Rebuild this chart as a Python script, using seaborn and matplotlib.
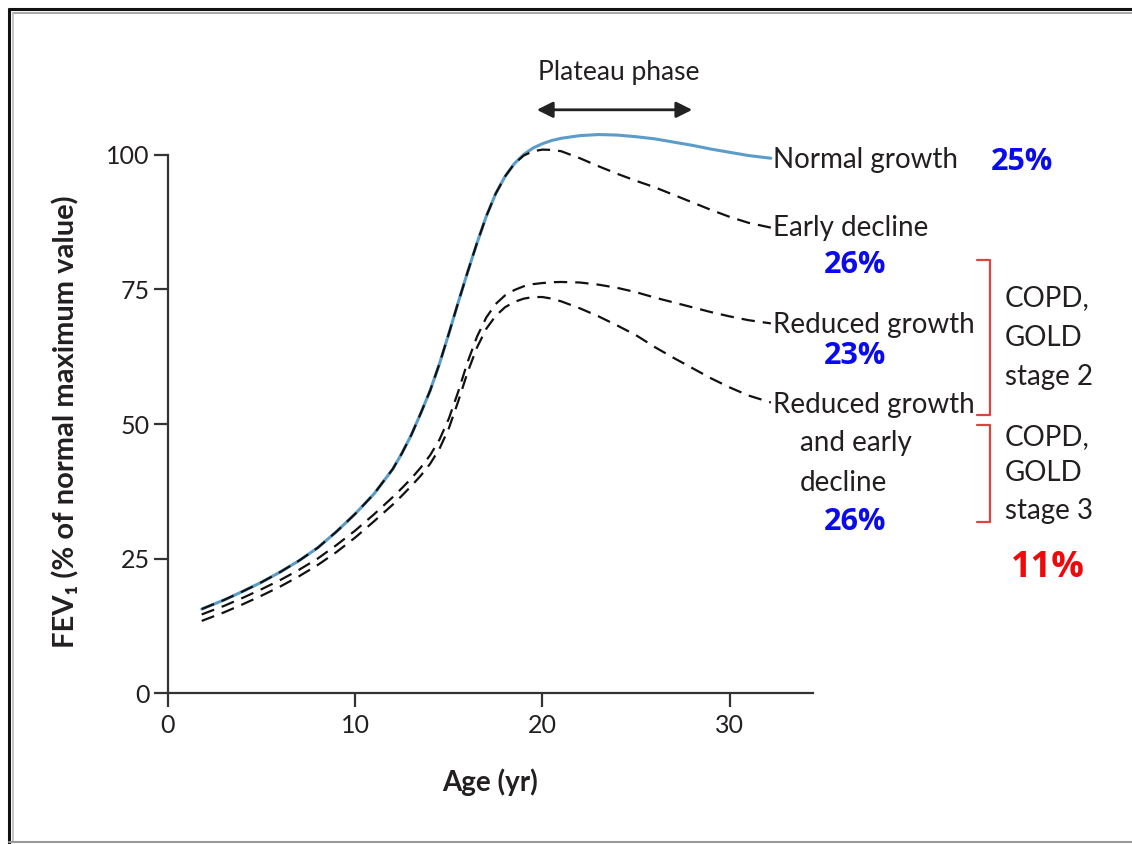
import numpy as np
import pandas as pd
import matplotlib
matplotlib.use('Agg')
import matplotlib.pyplot as plt
from matplotlib.lines import Line2D
import seaborn as sns

# ─── Data ──────────────────────────────────────────────
AGES = [1.8, 3, 4, 5, 6, 7, 8, 9, 10, 11, 12, 12.5, 13, 13.5, 14, 14.5, 15,
        15.5, 16, 16.5, 17, 17.5, 18, 18.5, 19, 19.5, 20, 20.5, 21, 22, 23,
        24, 25, 26, 27, 28, 29, 30, 31, 32.2]

normal_growth = [15.6, 17.3, 18.9, 20.6, 22.5, 24.6, 27.0, 30.0, 33.3, 37.0,
                 41.6, 44.6, 48.0, 52.0, 56.2, 61.2, 66.8, 72.6, 78.2, 83.6,
                 88.6, 92.8, 96.0, 98.4, 100.1, 101.3, 102.1, 102.7, 103.1,
                 103.6, 103.8, 103.7, 103.4, 103.0, 102.4, 101.8, 101.1,
                 100.5, 99.9, 99.4]

early_decline = [15.6, 17.3, 18.9, 20.6, 22.5, 24.6, 27.0, 30.0, 33.3, 37.0,
                 41.6, 44.6, 48.0, 52.0, 56.2, 61.2, 66.8, 72.6, 78.2, 83.6,
                 88.6, 92.8, 96.0, 98.4, 99.9, 100.7, 101.0, 100.95, 100.7,
                 99.4, 97.9, 96.5, 95.2, 94.0, 92.6, 91.2, 89.8, 88.5, 87.4,
                 86.5]

reduced_growth = [14.6, 16.2, 17.7, 19.3, 21.0, 22.9, 25.0, 27.5, 30.2, 33.2,
                  36.4, 38.1, 39.9, 41.9, 44.2, 47.1, 51.0, 56.0, 61.5, 66.2,
                  69.8, 72.3, 73.9, 74.9, 75.6, 76.0, 76.2, 76.35, 76.4, 76.3,
                  75.9, 75.3, 74.5, 73.5, 72.6, 71.7, 70.8, 70.0, 69.3, 68.7]

reduced_early = [13.4, 15.0, 16.5, 18.1, 19.8, 21.7, 23.8, 26.2, 28.9, 31.9,
                 35.0, 36.7, 38.5, 40.4, 42.6, 45.4, 49.2, 54.2, 59.6, 64.2,
                 67.7, 70.1, 71.7, 72.7, 73.3, 73.6, 73.6, 73.3, 72.8, 71.5,
                 70.0, 68.3, 66.5, 64.3, 62.3, 60.4, 58.5, 56.8, 55.3, 54.0]

Y_TICKS = [0, 25, 50, 75, 100]
X_TICKS = [0, 10, 20, 30]

# labels at right end of curves: (text, y)
curve_labels = [('Normal growth', 99.1), ('Early decline', 86.4),
                ('Reduced growth', 68.4), ('Reduced growth', 53.5)]
pct_blue = [('25%', 45.6, 98.7), ('26%', 36.7, 79.6),
            ('23%', 36.7, 62.6), ('26%', 36.7, 31.8)]
pct_red = ('11%', 47.0, 23.2)

# ─── Style ──────────────────────────────────────────────
sns.set_theme(style='white')
plt.rcParams['font.family'] = ['Lato', 'DejaVu Sans']
TXT = '#231f20'
BLUE = '#5b9cc8'
RED_BR = '#d9453f'

fig = plt.figure(figsize=(11.32, 8.44), dpi=100)
ax = fig.add_axes([0.1484, 0.1789, 0.5698, 0.7012])

dash = (0, (6.0, 3.6))
sns.lineplot(x=AGES, y=normal_growth, ax=ax, color=BLUE, lw=2.2, sort=False)
for vals in (early_decline, reduced_growth, reduced_early):
    sns.lineplot(x=AGES, y=vals, ax=ax, color='#111111', lw=1.6,
                 linestyle=dash, sort=False)

ax.set_xlim(0, 34.45)
ax.set_ylim(0, 110)
ax.spines[['top', 'right']].set_visible(False)
ax.spines['left'].set_bounds(0, 100)
for s in ('left', 'bottom'):
    ax.spines[s].set_color('#333333')
    ax.spines[s].set_linewidth(1.6)
ax.set_xticks(X_TICKS)
ax.set_yticks(Y_TICKS)
ax.tick_params(axis='both', direction='out', length=10, width=1.6,
               color='#333333', labelsize=18, labelcolor=TXT, pad=5)
ax.tick_params(axis='x', bottom=True)
ax.tick_params(axis='y', left=True, pad=3)
ax.set_xlabel('')
ax.set_ylabel('')

fig.text(490 / 1132, 1 - 782 / 844, 'Age (yr)', fontsize=20, fontweight='bold',
         color=TXT, ha='center', va='center')
fig.text(66 / 1132, 1 - 422 / 844, 'FEV\u2081 (% of normal maximum value)',
         fontsize=21, fontweight='bold', color=TXT, rotation=90,
         ha='center', va='center')

# ─── Plateau annotation ────────────────────────────────
ax.text(24.1, 115.4, 'Plateau phase', fontsize=19, color=TXT,
        ha='center', va='center', clip_on=False)
ax.annotate('', xy=(19.7, 108.4), xytext=(28.0, 108.4),
            arrowprops=dict(arrowstyle='<|-|>', color='#222222', lw=2,
                            mutation_scale=24, shrinkA=0, shrinkB=0),
            annotation_clip=False)

# ─── Curve labels ──────────────────────────────────────
for txt, yv in curve_labels:
    ax.text(32.3, yv, txt, fontsize=20, color=TXT, ha='left', va='center',
            clip_on=False)
ax.text(33.74, 46.5, 'and early', fontsize=20, color=TXT, ha='left',
        va='center', clip_on=False)
ax.text(33.74, 39.0, 'decline', fontsize=20, color=TXT, ha='left',
        va='center', clip_on=False)

for txt, xv, yv in pct_blue:
    ax.text(xv, yv, txt, fontsize=22, fontweight='bold', color='#0a0aee',
            family=['Open Sans', 'DejaVu Sans'], ha='center', va='center',
            clip_on=False)
ax.text(pct_red[1], pct_red[2], pct_red[0], fontsize=26, fontweight='bold',
        color='#ee0a0a', family=['Open Sans', 'DejaVu Sans'], ha='center',
        va='center', clip_on=False)

# ─── COPD brackets ─────────────────────────────────────
for (y0, y1) in [(80.5, 51.7), (49.8, 31.8)]:
    ax.add_line(Line2D([43.19, 43.89, 43.89, 43.19], [y0, y0, y1, y1],
                       color=RED_BR, lw=1.6, clip_on=False))
for txt, yv in [('COPD,', 73.4), ('GOLD', 66.0), ('stage 2', 58.7),
                ('COPD,', 47.6), ('GOLD', 40.9), ('stage 3', 33.8)]:
    ax.text(44.69, yv, txt, fontsize=20, color=TXT, ha='left', va='center',
            clip_on=False)

# ─── screenshot frame ──────────────────────────────────
W, H = 1132, 844
fig.add_artist(Line2D([9 / W, 1], [1 - 9 / H, 1 - 9 / H], color='#111111', lw=2.2))
fig.add_artist(Line2D([13 / W, 1], [1 - 13 / H, 1 - 13 / H], color='#aaaaaa', lw=1.5))
fig.add_artist(Line2D([9 / W, 9 / W], [0, 1 - 9 / H], color='#111111', lw=2.2))
fig.add_artist(Line2D([13 / W, 13 / W], [2 / H, 1 - 13 / H], color='#bbbbbb', lw=1.2))
fig.add_artist(Line2D([9 / W, 1], [2 / H, 2 / H], color='#999999', lw=1.5))

plt.savefig('out.png', dpi=100)
plt.close()
